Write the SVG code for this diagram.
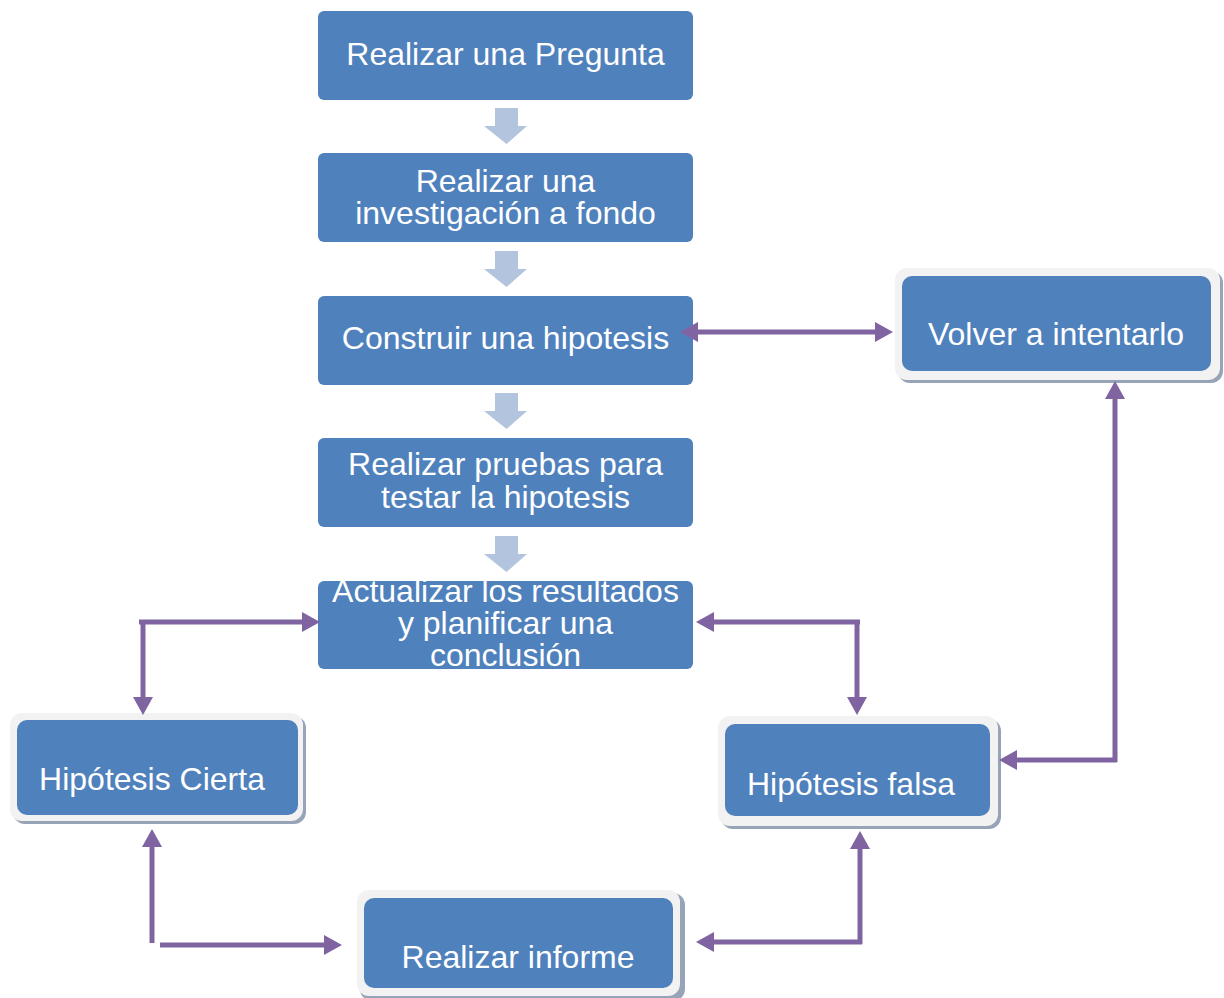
<svg xmlns="http://www.w3.org/2000/svg" width="1224" height="998" viewBox="0 0 1224 998">
<defs>
<style>
.box{fill:#4F81BD}
.frame{fill:#F2F2F2}
.shadow{fill:#97A3B6}
.t{font-family:"Liberation Sans",Arial,sans-serif;font-size:32px;fill:#FFFFFF;text-anchor:middle}
.blk{fill:#B3C4DF}
.con{fill:none;stroke:#8064A2;stroke-width:5}
</style>
<marker id="ah" markerUnits="userSpaceOnUse" markerWidth="20" markerHeight="22" refX="2" refY="11" orient="auto-start-reverse">
<path d="M0,1 L18,11 L0,21 z" fill="#8064A2"/>
</marker>
</defs>
<rect width="1224" height="998" fill="#FFFFFF"/>

<g id="n1">
<rect class="box" x="318" y="11" width="375" height="89" rx="6"/>
<text class="t" x="505.5" y="65">Realizar una Pregunta</text>
</g>
<g id="n2">
<rect class="box" x="318" y="153" width="375" height="89" rx="6"/>
<text class="t" x="505.5" y="192">Realizar una</text>
<text class="t" x="505.5" y="224">investigación a fondo</text>
</g>
<g id="n3">
<rect class="box" x="318" y="296" width="375" height="89" rx="6"/>
<text class="t" x="505.5" y="349">Construir una hipotesis</text>
</g>
<g id="n4">
<rect class="box" x="318" y="438" width="375" height="89" rx="6"/>
<text class="t" x="505.5" y="475">Realizar pruebas para</text>
<text class="t" x="505.5" y="508">testar la hipotesis</text>
</g>
<g id="n5">
<rect class="box" x="318" y="581" width="375" height="88" rx="6"/>
<text class="t" x="505.5" y="602">Actualizar los resultados</text>
<text class="t" x="505.5" y="634">y planificar una</text>
<text class="t" x="505.5" y="666">conclusión</text>
</g>

<g id="n6">
<rect class="shadow" x="898" y="271" width="325" height="112" rx="12"/>
<rect class="frame" x="895" y="268" width="325" height="112" rx="12"/>
<rect class="box" x="902" y="276" width="309" height="95" rx="10"/>
<text class="t" x="1056" y="345">Volver a intentarlo</text>
</g>
<g id="n7">
<rect class="shadow" x="13" y="716" width="293" height="108" rx="12"/>
<rect class="frame" x="10" y="713" width="293" height="108" rx="12"/>
<rect class="box" x="17" y="720" width="281" height="95" rx="10"/>
<text class="t" x="152" y="790">Hipótesis Cierta</text>
</g>
<g id="n8">
<rect class="shadow" x="721" y="719" width="280" height="110" rx="12"/>
<rect class="frame" x="718" y="716" width="280" height="110" rx="12"/>
<rect class="box" x="725" y="724" width="265" height="92" rx="10"/>
<text class="t" x="851" y="795">Hipótesis falsa</text>
</g>
<g id="n9">
<rect class="shadow" x="360" y="893" width="325" height="108" rx="12"/>
<rect class="frame" x="357" y="890" width="323" height="106" rx="12"/>
<rect class="box" x="364" y="898" width="309" height="90" rx="10"/>
<text class="t" x="518" y="968">Realizar informe</text>
</g>

<g id="flow-arrows">
<polygon class="blk" points="495,108 518,108 518,126 527,126 506.5,144 484,126 495,126"/>
<polygon class="blk" points="495,251 518,251 518,269 527,269 506.5,287 484,269 495,269"/>
<polygon class="blk" points="495,393 518,393 518,411 527,411 506.5,429 484,411 495,411"/>
<polygon class="blk" points="495,536 518,536 518,554 527,554 506.5,572 484,554 495,554"/>
</g>

<g id="connectors">
<path class="con" d="M696,332 H877" marker-start="url(#ah)" marker-end="url(#ah)"/>
<path class="con" d="M139,622 H304" marker-end="url(#ah)"/>
<path class="con" d="M143,620 V699" marker-end="url(#ah)"/>
<path class="con" d="M860,622 H712" marker-end="url(#ah)"/>
<path class="con" d="M857,620 V699" marker-end="url(#ah)"/>
<path class="con" d="M1115,762 V397" marker-end="url(#ah)"/>
<path class="con" d="M1117,760 H1015" marker-end="url(#ah)"/>
<path class="con" d="M152,943 V845" marker-end="url(#ah)"/>
<path class="con" d="M160,945 H326" marker-end="url(#ah)"/>
<path class="con" d="M862,942 H712" marker-end="url(#ah)"/>
<path class="con" d="M860,944 V847" marker-end="url(#ah)"/>
</g>
</svg>
